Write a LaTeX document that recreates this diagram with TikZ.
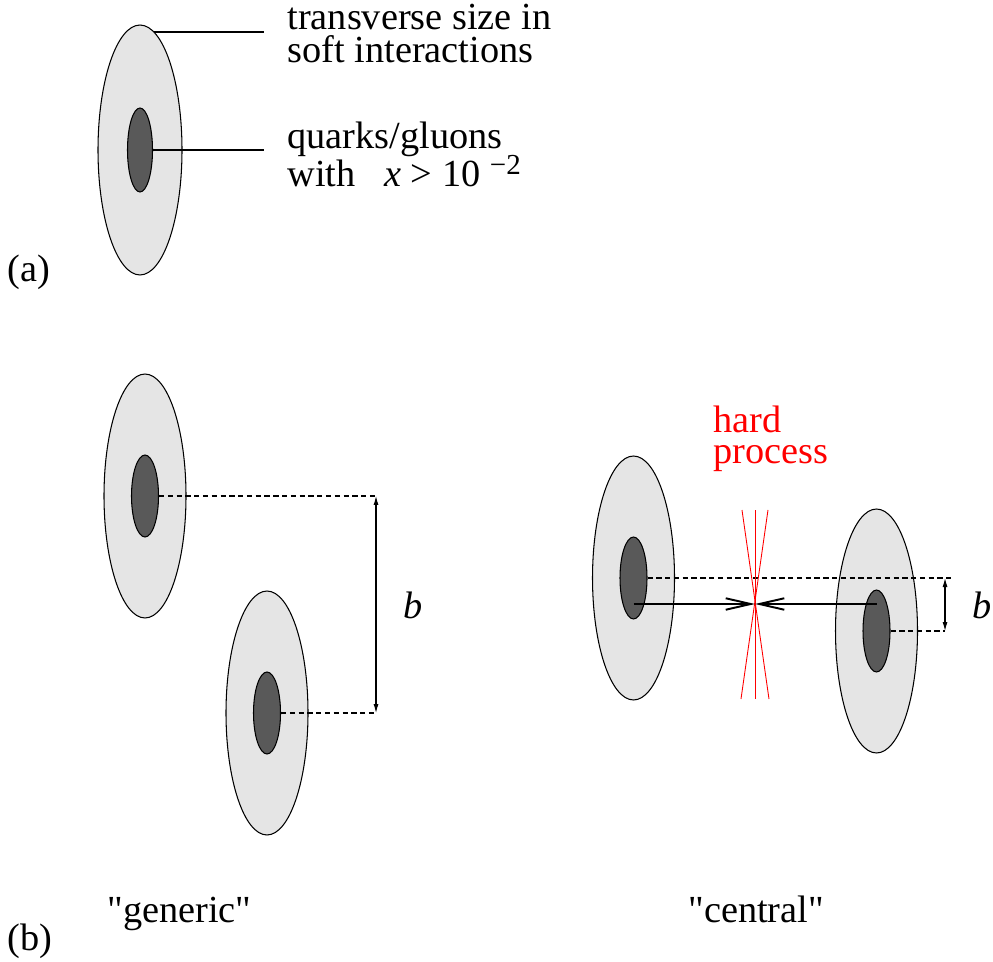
\documentclass[tikz,border=0pt]{standalone}
\usepackage{fontspec}
\setmainfont{Liberation Serif}[Ligatures=TeXOff]
\usetikzlibrary{arrows.meta,shapes.geometric}

\begin{document}
\begin{tikzpicture}[x=0.02cm, y=-0.02cm, line width=0.6pt,
  proton/.style={ellipse, draw, fill=black!10, inner sep=0pt, minimum width=1.64cm, minimum height=4.88cm},
  parton/.style={ellipse, draw, fill=black!65, inner sep=0pt, minimum width=0.54cm, minimum height=1.64cm},
  lbl/.style={anchor=base west, inner sep=0pt, font=\fontsize{21.8}{26}\selectfont},
  sep/.style={dash pattern=on 3pt off 2pt},
  bar/.style={{Latex[length=1.8mm,width=1mm]}-{Latex[length=1.8mm,width=1mm]}},
  push/.style={-{Straight Barb[length=5mm,width=2.3mm]}, line width=1.1pt},
  jet/.style={red, line width=0.5pt}]
\useasboundingbox (0,0) rectangle (993,962);
% (a)
\node[proton, minimum width=1.68cm, minimum height=5cm] (pA) at (140,150) {};
\node[parton, minimum width=0.5cm, minimum height=1.68cm] (qA) at (140,150) {};
\coordinate (lA) at (264,33);
\draw (pA.83) -- (pA.83 -| lA);
\draw (qA.east) -- (qA.east -| lA);
\node[lbl] (sa) at (287,29.5) {transverse size in};
\node[lbl] (sb) at (287,63) {soft interactions};
\node[lbl] (qa) at (287,149) {quarks/gluons};
\node[lbl] (qb) at (287,187) {with\hspace{0.75em}\textit{x} > 10\hspace{0.25em}\raisebox{0.33em}{\fontsize{16.5}{18}\selectfont −2}};
\node[lbl] (la) at (7,282) {(a)};
% (b) generic
\node[proton] (pU) at (145,496) {};
\node[parton] (qU) at (145,496) {};
\node[proton] (pD) at (267,713) {};
\node[parton] (qD) at (267,713) {};
\coordinate (gt) at (376,496);
\coordinate (gb) at (376,713);
\draw[sep] (qU.east) -- (gt);
\draw[sep] (qD.east) -- (gb);
\draw[bar] (gt) -- (gb);
\node[lbl] (gB) at (403,618) {\textit{b}};
\node[lbl] (gen) at (107,922) {"generic"};
\node[lbl] (lb) at (7,950) {(b)};
% (b) central
\node[proton] (pL) at (633.5,578) {};
\node[parton] (qL) at (633.5,578) {};
\node[proton] (pR) at (876.5,631) {};
\node[parton] (qR) at (876.5,631) {};
\coordinate (hit) at (755,604);
\coordinate (ct) at (945,578);
\coordinate (cb) at (945,631);
\draw[sep] (qL.east) -- ([xshift=0.12cm]ct);
\draw[sep] (qR.east) -- (qR.east -| cb);
\draw[bar] (ct) -- (cb);
\draw[jet] (hit) ++(0,-94) -- ++(0,189);
\draw[jet] (hit) ++(-13,-94) -- ++(27,189);
\draw[jet] (hit) ++(13,-94) -- ++(-27,189);
\draw[push] (qL.center |- hit) -- (hit);
\draw[push] (qR.center |- hit) -- (hit);
\node[lbl, red] (hd) at (713,432) {hard};
\node[lbl, red] (pr) at (713,463) {process};
\node[lbl] (cB) at (972,618) {\textit{b}};
\node[lbl] (cen) at (688,922) {"central"};
\end{tikzpicture}
\end{document}
